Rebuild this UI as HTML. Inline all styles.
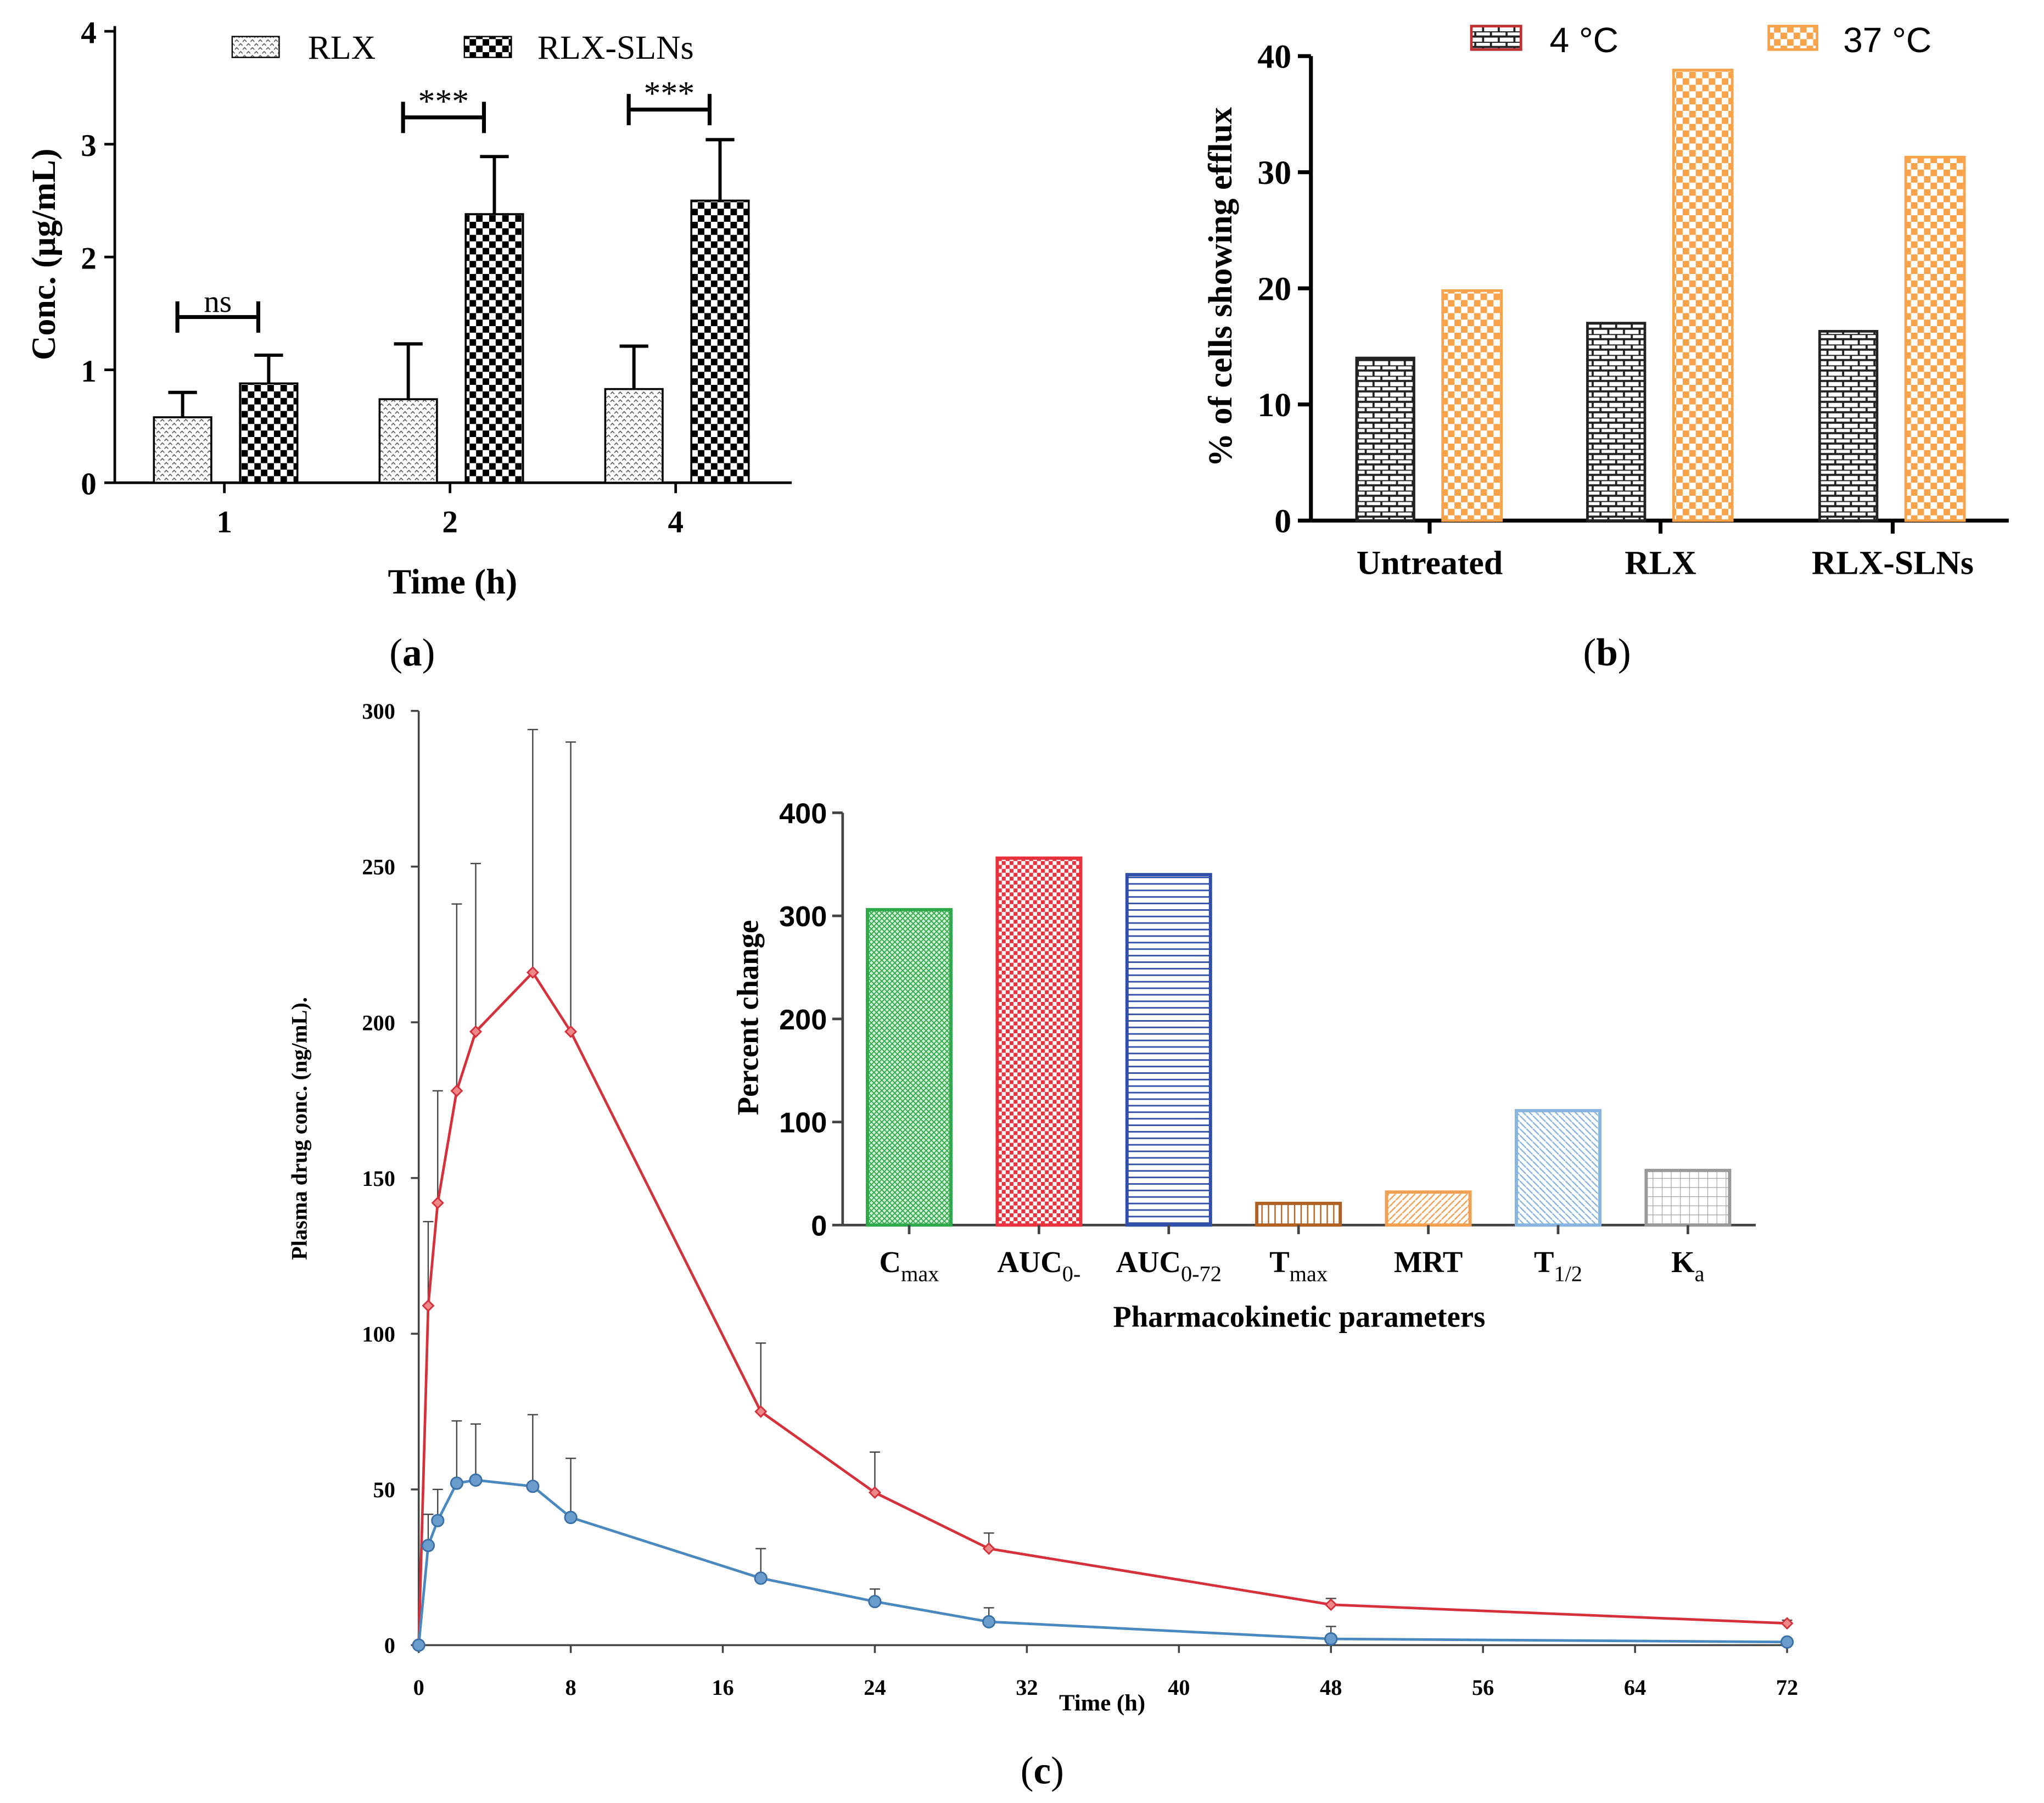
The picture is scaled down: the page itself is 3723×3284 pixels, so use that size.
<!DOCTYPE html>
<html><head><meta charset="utf-8"><style>html,body{margin:0;padding:0;background:#fff}svg{display:block}</style></head>
<body>
<svg id="fig" width="3723" height="3284" viewBox="0 0 1567 1382" preserveAspectRatio="none" xmlns="http://www.w3.org/2000/svg" font-family="Liberation Serif, serif">
<defs>
<pattern id="pDot" width="6" height="6" patternUnits="userSpaceOnUse"><rect width="6" height="6" fill="#fff"/><path d="M0 2 L1.5 0.5 L3 2 M3 5 L4.5 3.5 L6 5" stroke="#555" stroke-width="0.7" fill="none"/></pattern>
<pattern id="pChk" width="10" height="10" patternUnits="userSpaceOnUse"><rect width="10" height="10" fill="#fff"/><rect width="5" height="5" fill="#000"/><rect x="5" y="5" width="5" height="5" fill="#000"/></pattern>
<pattern id="pBrick" width="12" height="8" patternUnits="userSpaceOnUse"><rect width="12" height="8" fill="#fff"/><path d="M0 0H12M0 4H12M3 0V4M9 4V8" stroke="#222" stroke-width="1.6"/></pattern>
<pattern id="pOr" width="10" height="10" patternUnits="userSpaceOnUse"><rect width="10" height="10" fill="#fff"/><rect width="5" height="5" fill="#f8a24a"/><rect x="5" y="5" width="5" height="5" fill="#f8a24a"/></pattern>
<pattern id="iG" width="4" height="4" patternUnits="userSpaceOnUse"><rect width="4" height="4" fill="#d6f0da"/><path d="M0 0L4 4M4 0L0 4" stroke="#2eaa4a" stroke-width="0.8"/></pattern>
<pattern id="iR" width="6" height="6" patternUnits="userSpaceOnUse"><rect width="6" height="6" fill="#fff"/><rect width="3" height="3" fill="#e8333f"/><rect x="3" y="3" width="3" height="3" fill="#e8333f"/></pattern>
<pattern id="iB" width="6" height="5" patternUnits="userSpaceOnUse"><rect width="6" height="5" fill="#fff"/><path d="M0 2.5H6" stroke="#3050a8" stroke-width="1.2"/></pattern>
<pattern id="iBr" width="5" height="6" patternUnits="userSpaceOnUse"><rect width="5" height="6" fill="#fff"/><path d="M2.5 0V6" stroke="#b06020" stroke-width="1"/></pattern>
<pattern id="iO" width="5" height="5" patternUnits="userSpaceOnUse"><rect width="5" height="5" fill="#fff"/><path d="M0 5L5 0" stroke="#f0a050" stroke-width="1"/></pattern>
<pattern id="iLB" width="5" height="5" patternUnits="userSpaceOnUse"><rect width="5" height="5" fill="#fff"/><path d="M0 0L5 5" stroke="#88b4e0" stroke-width="1"/></pattern>
<pattern id="iGr" width="7" height="7" patternUnits="userSpaceOnUse"><rect width="7" height="7" fill="#fff"/><path d="M0 0H7M0 0V7" stroke="#999" stroke-width="0.9"/></pattern>
</defs>
<g id="a"></g>
<g id="b"></g>
<g id="c"></g>
<g id="ins"></g>
<text x="316" y="510" font-size="30" text-anchor="middle">(<tspan font-weight="bold">a</tspan>)</text>
<text x="1232" y="510" font-size="30" text-anchor="middle">(<tspan font-weight="bold">b</tspan>)</text>
<text x="799" y="1367" font-size="30" text-anchor="middle">(<tspan font-weight="bold">c</tspan>)</text>
</svg>
<script>
// panel a data
const aCats=['1','2','4'];
const aRLX=[0.58,0.74,0.83];
const aRLXErr=[0.80,1.23,1.21];
const aSLN=[0.88,2.38,2.50];
const aSLNErr=[1.13,2.89,3.04];
const aTicks=[0,1,2,3,4];
const aSig=['ns','***','***'];
// panel b data
const bCats=['Untreated','RLX','RLX-SLNs'];
const b4=[14,17,16.3];
const b37=[19.8,38.8,31.3];
const bTicks=[0,10,20,30,40];
// panel c data
const cTimes=[0,0.5,1,2,3,6,8,18,24,30,48,72];
const cRed=[0,109,142,178,197,216,197,75,49,31,13,7];
const cRedErr=[0,136,178,238,251,294,290,97,62,36,15,8];
const cBlue=[0,32,40,52,53,51,41,21.5,14,7.5,2,1];
const cBlueErr=[0,42,50,72,71,74,60,31,18,12,6,2];
const cXTicks=[0,8,16,24,32,40,48,56,64,72];
const cYTicks=[0,50,100,150,200,250,300];
// inset data
const iCats=['C','AUC','AUC','T','MRT','T','K'];
const iSubs=['max','0-','0-72','max','','1/2','a'];
const iVals=[306,356,340,21,32,111,53];
const iTicks=[0,100,200,300,400];

const NS='http://www.w3.org/2000/svg';
function mk(p,t,at,txt){const e=document.createElementNS(NS,t);for(const k in at)e.setAttribute(k,at[k]);if(txt!==undefined)e.textContent=txt;p.appendChild(e);return e;}

// ---- Panel A
(function(){
const g=document.getElementById('a');
const ya=v=>370-v*86.5, cx=i=>[172,345,518][i];
mk(g,'line',{x1:88,y1:20,x2:88,y2:370,stroke:'#000','stroke-width':2});
mk(g,'line',{x1:88,y1:370,x2:607,y2:370,stroke:'#000','stroke-width':2});
aTicks.forEach(t=>{const y=ya(t);
 const l=mk(g,'line',{x1:80,y1:y,x2:88,y2:y,stroke:'#000','stroke-width':2});
 
 const tx=mk(g,'text',{x:74,y:y+9,'font-size':24,'font-weight':'bold','text-anchor':'end'},t);
 });
aCats.forEach((c,i)=>{const x=cx(i);
 mk(g,'line',{x1:x,y1:370,x2:x,y2:378,stroke:'#000','stroke-width':2});
 const tx=mk(g,'text',{x:x,y:408,'font-size':24,'font-weight':'bold','text-anchor':'middle'},c);
 
 [[aRLX,aRLXErr,'url(#pDot)',x-54],[aSLN,aSLNErr,'url(#pChk)',x+12]].forEach(([v,e,f,bx])=>{
  const b=mk(g,'rect',{x:bx,y:ya(v[i]),width:44,height:ya(0)-ya(v[i]),fill:f,stroke:'#000','stroke-width':1.5});
  
  mk(g,'path',{d:`M${bx+22} ${ya(v[i])}V${ya(e[i])}M${bx+11} ${ya(e[i])}H${bx+33}`,stroke:'#000','stroke-width':2.5,fill:'none'});
 });
 const yb=i==0?243:(i==1?90:84);
 mk(g,'path',{d:`M${x-36} ${yb-12}V${yb+12}M${x-36} ${yb}H${x+26}M${x+26} ${yb-12}V${yb+12}`,stroke:'#000','stroke-width':3,fill:'none'});
 const s=mk(g,'text',{x:x-5,y:yb-4,'font-size':i==0?24:26,'text-anchor':'middle'},aSig[i]);
 
});
mk(g,'rect',{x:178,y:28,width:36,height:16,fill:'url(#pDot)',stroke:'#000'});
mk(g,'text',{x:236,y:45,'font-size':26},'RLX');
mk(g,'rect',{x:356,y:28,width:36,height:16,fill:'url(#pChk)',stroke:'#000'});
mk(g,'text',{x:412,y:45,'font-size':26},'RLX-SLNs');
mk(g,'text',{x:347,y:455,'font-size':27,'font-weight':'bold','text-anchor':'middle'},'Time (h)');
mk(g,'text',{transform:'translate(42,195) rotate(-90)','font-size':26,'font-weight':'bold','text-anchor':'middle'},'Conc. (µg/mL)');
})();

// ---- Panel B
(function(){
const g=document.getElementById('b');
const yb=v=>399-v*8.9, cx=i=>[1096,1273,1451][i];
mk(g,'line',{x1:1005,y1:43,x2:1005,y2:399,stroke:'#000','stroke-width':3});
mk(g,'line',{x1:1005,y1:399,x2:1540,y2:399,stroke:'#000','stroke-width':3});
bTicks.forEach(t=>{const y=yb(t);
 mk(g,'line',{x1:995,y1:y,x2:1005,y2:y,stroke:'#000','stroke-width':3});
 const tx=mk(g,'text',{x:990,y:y+9,'font-size':26,'font-weight':'bold','text-anchor':'end'},t);
 });
bCats.forEach((c,i)=>{const x=cx(i);
 mk(g,'line',{x1:x,y1:399,x2:x,y2:409,stroke:'#000','stroke-width':3});
 const tx=mk(g,'text',{x:x,y:440,'font-size':26,'font-weight':'bold','text-anchor':'middle'},c);
 
 const b1=mk(g,'rect',{x:x-56,y:yb(b4[i]),width:44,height:yb(0)-yb(b4[i]),fill:'url(#pBrick)',stroke:'#222','stroke-width':2});
 
 const b2=mk(g,'rect',{x:x+10,y:yb(b37[i]),width:45,height:yb(0)-yb(b37[i]),fill:'url(#pOr)',stroke:'#f8a24a','stroke-width':2});
 
});
mk(g,'rect',{x:1128,y:20,width:38,height:18,fill:'url(#pBrick)',stroke:'#c03030','stroke-width':2});
mk(g,'text',{x:1188,y:40,'font-size':27,'font-family':'Liberation Sans, sans-serif'},'4 °C');
mk(g,'rect',{x:1356,y:20,width:37,height:18,fill:'url(#pOr)',stroke:'#f8a24a','stroke-width':2});
mk(g,'text',{x:1413,y:40,'font-size':27,'font-family':'Liberation Sans, sans-serif'},'37 °C');
mk(g,'text',{transform:'translate(944,220) rotate(-90)','font-size':26,'font-weight':'bold','text-anchor':'middle'},'% of cells showing efflux');
})();

// ---- Panel C
(function(){
const g=document.getElementById('c');
const xs=t=>321+t*14.57, ys=v=>1261-v*2.387;
mk(g,'line',{x1:321,y1:545,x2:321,y2:1261,stroke:'#444','stroke-width':1.5});
mk(g,'line',{x1:321,y1:1261,x2:1370,y2:1261,stroke:'#444','stroke-width':1.5});
cYTicks.forEach(t=>{const y=ys(t);
 mk(g,'line',{x1:315,y1:y,x2:321,y2:y,stroke:'#444','stroke-width':1.5});
 const tx=mk(g,'text',{x:303,y:y+6,'font-size':17,'font-weight':'bold','text-anchor':'end'},t);
 });
cXTicks.forEach(t=>{const x=xs(t);
 mk(g,'line',{x1:x,y1:1261,x2:x,y2:1267,stroke:'#444','stroke-width':1.5});
 const tx=mk(g,'text',{x:x,y:1299,'font-size':17,'font-weight':'bold','text-anchor':'middle'},t);
 });
[[cRed,cRedErr,'#d6303a','#e88'],[cBlue,cBlueErr,'#4a88c0','#6a9ccc']].forEach(([v,e,col,fill])=>{
 cTimes.forEach((t,i)=>{if(e[i]>v[i])mk(g,'path',{d:`M${xs(t)} ${ys(v[i])}V${ys(e[i])}M${xs(t)-4} ${ys(e[i])}H${xs(t)+4}`,stroke:'#444','stroke-width':1,fill:'none'});});
 const ln=mk(g,'polyline',{points:cTimes.map((t,i)=>xs(t)+','+ys(v[i])).join(' '),fill:'none',stroke:col,'stroke-width':2});
 
 cTimes.forEach((t,i)=>{
  let p;
  if(col==='#d6303a')p=mk(g,'path',{d:`M${xs(t)} ${ys(v[i])-4}l4 4l-4 4l-4 -4z`,fill:fill,stroke:col,'stroke-width':1.2});
  else p=mk(g,'circle',{cx:xs(t),cy:ys(v[i]),r:4.5,fill:fill,stroke:'#3a70a8','stroke-width':1.2});
  
 });
});
mk(g,'text',{x:845,y:1311,'font-size':18,'font-weight':'bold','text-anchor':'middle'},'Time (h)');
mk(g,'text',{transform:'translate(235,865) rotate(-90)','font-size':17,'font-weight':'bold','text-anchor':'middle'},'Plasma drug conc. (ng/mL).');
})();

// ---- Inset
(function(){
const g=document.getElementById('ins');
const yi=v=>939-v*0.79, cx=i=>697+i*99.5;
const strokes=['#2eaa4a','#e8333f','#3050a8','#b06020','#f0a050','#88b4e0','#999'];
const fills=['url(#iG)','url(#iR)','url(#iB)','url(#iBr)','url(#iO)','url(#iLB)','url(#iGr)'];
mk(g,'line',{x1:646,y1:623,x2:646,y2:939,stroke:'#444','stroke-width':2});
mk(g,'line',{x1:646,y1:939,x2:1346,y2:939,stroke:'#444','stroke-width':2});
iTicks.forEach(t=>{const y=yi(t);
 mk(g,'line',{x1:638,y1:y,x2:646,y2:y,stroke:'#444','stroke-width':2});
 const tx=mk(g,'text',{x:634,y:y+8,'font-size':22,'font-weight':'bold','text-anchor':'end','font-family':'Liberation Sans, sans-serif'},t);
 });
iVals.forEach((v,i)=>{const x=cx(i);
 const b=mk(g,'rect',{x:x-32,y:yi(v),width:64,height:yi(0)-yi(v),fill:fills[i],stroke:strokes[i],'stroke-width':2.5});
 
 mk(g,'line',{x1:x,y1:939,x2:x,y2:946,stroke:'#444','stroke-width':2});
 const tx=mk(g,'text',{x:x,y:975,'font-size':23,'font-weight':'bold','text-anchor':'middle'});
 
 const a=document.createElementNS(NS,'tspan');a.textContent=iCats[i];tx.appendChild(a);
 if(iSubs[i]){const s=document.createElementNS(NS,'tspan');s.setAttribute('dy','7');s.setAttribute('font-size','17');s.setAttribute('font-weight','normal');s.textContent=iSubs[i];tx.appendChild(s);}
});
mk(g,'text',{x:996,y:1017,'font-size':23,'font-weight':'bold','text-anchor':'middle'},'Pharmacokinetic parameters');
mk(g,'text',{transform:'translate(581,780) rotate(-90)','font-size':23,'font-weight':'bold','text-anchor':'middle'},'Percent change');
})();
</script>
</body></html>
